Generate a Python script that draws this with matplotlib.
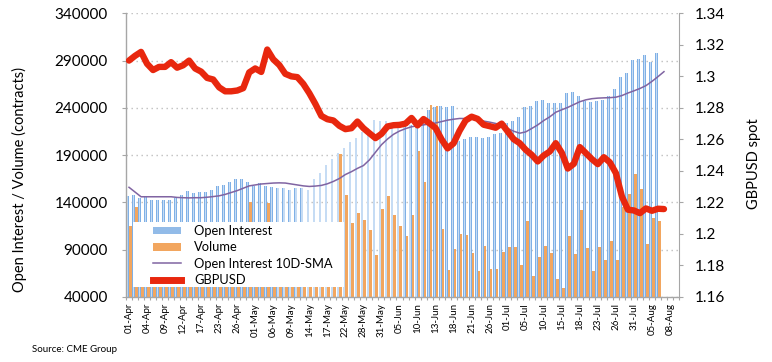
import numpy as np
import pandas as pd
import matplotlib
matplotlib.use("Agg")
import matplotlib.pyplot as plt
from matplotlib.patches import Patch, Rectangle
from matplotlib.lines import Line2D
from matplotlib.ticker import FuncFormatter, FixedLocator

plt.rcParams['font.family'] = ['Lato', 'DejaVu Sans']

# ---- categories (CME business days) ----
holidays = ['2019-04-19', '2019-05-27', '2019-07-04']
dates = [d for d in pd.bdate_range('2019-04-01', '2019-08-09')
         if d.strftime('%Y-%m-%d') not in holidays]
categories = [d.strftime('%d-%b') for d in dates]
label_step = 3

# ---- series ----
open_interest = [
    147000, 147700, 144600, 145300, 142800, 142100, 142800, 142100, 144600, 148100,
    151600, 149900, 150900, 150600, 153400, 157600, 158000, 161500, 164600, 165300,
    161500, 156900, 160400, 156900, 156200, 155100, 155100, 153400, 155100, 155100,
    153400, 164600, 171000, 179800, 186100, 192100, 197400, 204400, 208000, 214000,
    218500, 227300, 226600, 225600, 221000, 222000, 222000, 222000, 222000, 224500,
    237900, 240700, 242100, 241400, 242100, 205000, 206900, 208700, 209000, 208000,
    209700, 212500, 213900, 223800, 225600, 230800, 240700, 242100, 247700, 248400,
    244900, 244900, 244900, 256200, 257300, 252700, 247700, 246700, 247700, 248400,
    252700, 259700, 273100, 276600, 290700, 291400, 296000, 288900, 297700]

volume = [
    115300, 134700, 95000, 105000, 88000, 100000, 92000, 85000, 110000, 98000,
    90000, 104000, 96000, 87000, 108000, 99000, 93000, 112000, 101000, 94000,
    140000, 105000, 98000, 139000, 100000, 92000, 108000, 97000, 89000, 103000,
    110000, 95000, 115000, 112000, 104000, 191000, 147500, 118000, 128500, 121000,
    111000, 84500, 133000, 147000, 127000, 115000, 104800, 127000, 194500, 161300,
    243000, 242000, 111500, 68500, 90500, 107000, 105500, 86500, 67800, 94200,
    69600, 70000, 87500, 93300, 92800, 73700, 120600, 62500, 82200, 93800,
    86100, 58600, 50000, 104500, 85400, 132000, 91400, 67500, 92800, 79400,
    99300, 79000, 135000, 148800, 170000, 153800, 96000, 123400, 120300]

oi_sma10 = [
    156000, 151000, 146000, 146000, 146000, 146000, 146000, 146000, 145300, 145000,
    144800, 145000, 145000, 145500, 146200, 147000, 148500, 150500, 152500, 155000,
    157500, 158500, 159500, 160000, 160500, 160700, 160500, 159500, 158500, 157500,
    156900, 157300, 158000, 159700, 162200, 165300, 169500, 172500, 176000, 179000,
    185000, 193000, 201000, 207000, 212000, 215500, 218000, 220000, 221000, 222000,
    223000, 224000, 225500, 227000, 228000, 228800, 228700, 228000, 227000, 226000,
    224900, 223500, 221300, 218200, 215300, 213200, 214600, 218200, 222000, 226600,
    230500, 235400, 238000, 240500, 243500, 246500, 248500, 249700, 250300, 250600,
    250800, 251300, 253000, 255700, 258000, 260500, 263500, 268000, 273000, 278300]

gbpusd = [
    1.310, 1.313, 1.3155, 1.308, 1.304, 1.306, 1.306, 1.309, 1.3055, 1.307,
    1.310, 1.305, 1.303, 1.299, 1.298, 1.293, 1.2905, 1.2905, 1.291, 1.2925,
    1.3025, 1.305, 1.3028, 1.317, 1.3108, 1.3072, 1.3016, 1.300, 1.2995, 1.2952,
    1.2893, 1.2825, 1.2749, 1.2728, 1.272, 1.2686, 1.2665, 1.2671, 1.2713, 1.2671,
    1.2639, 1.2608, 1.2635, 1.2682, 1.2690, 1.2692, 1.2700, 1.2736, 1.2689, 1.2729,
    1.2702, 1.2672, 1.2600, 1.2543, 1.2575, 1.2655, 1.2720, 1.2744, 1.2730, 1.2693,
    1.2684, 1.2674, 1.2700, 1.2650, 1.2601, 1.2576, 1.2534, 1.2502, 1.2460, 1.2498,
    1.2523, 1.2576, 1.2515, 1.2415, 1.2445, 1.2551, 1.2513, 1.2475, 1.2443, 1.2487,
    1.2454, 1.2386, 1.2238, 1.2154, 1.2149, 1.2132, 1.2162, 1.2147, 1.2160, 1.2158]

left_ticks = [40000, 90000, 140000, 190000, 240000, 290000, 340000]
right_ticks = [1.16, 1.18, 1.20, 1.22, 1.24, 1.26, 1.28, 1.30, 1.32, 1.34]

# ---- styles ----
C_OI = '#7fb0e6'
C_OI_HI = '#c6dcf4'
C_VOL = '#f2a65f'
C_SMA = '#8064a2'
C_FX = '#e8270e'
C_AX = '#a6a6a6'

W, H = 772, 362
fig = plt.figure(figsize=(W / 100, H / 100), dpi=100)
L, R, T, B = 126, 679, 13.3, 297
ax = fig.add_axes([L / W, 1 - B / H, (R - L) / W, (B - T) / H])

xb = np.arange(len(open_interest))
bw = 0.47
ax.bar(xb - bw / 2, open_interest, width=bw, color=C_OI, zorder=2, linewidth=0)
ax.bar(xb - bw / 2, open_interest, width=bw * 0.45, color=C_OI_HI, zorder=2.1, linewidth=0)
ax.bar(xb + bw / 2, volume, width=bw, color=C_VOL, zorder=2.2, linewidth=0)
ax.plot(np.arange(len(oi_sma10)), oi_sma10, color=C_SMA, lw=1.1, zorder=3)

ax.set_xlim(-0.5, len(categories) - 0.5)
ax.set_ylim(left_ticks[0], left_ticks[-1])
ax.set_yticks(left_ticks)
ax.yaxis.set_major_formatter(FuncFormatter(lambda v, p: f'{int(round(v))}'))
ax.grid(axis='y', color='#bfbfbf', linestyle=(0, (1, 2.6)), lw=1.0)
ax.set_axisbelow(True)

pos = list(range(0, len(categories), label_step))
ax.set_xticks(pos)
ax.set_xticklabels([categories[i] for i in pos], rotation=90, fontsize=7)
ax.xaxis.set_minor_locator(FixedLocator(np.arange(-0.5, len(categories), 1)))
ax.tick_params(axis='x', which='major', length=0, pad=4.3)
ax.tick_params(axis='x', which='minor', length=2.5, color=C_AX, width=0.8)
ax.tick_params(axis='y', direction='out', length=3, color=C_AX, pad=10, labelsize=11)

for s in ['top', 'right']:
    ax.spines[s].set_visible(False)
for s in ['left', 'bottom']:
    ax.spines[s].set_color(C_AX)
    ax.spines[s].set_linewidth(1.0)

ax2 = ax.twinx()
ax2.plot(np.arange(len(gbpusd)), gbpusd, color=C_FX, lw=4.6, zorder=4,
         solid_capstyle='round', solid_joinstyle='round')
ax2.set_ylim(right_ticks[0], right_ticks[-1])
ax2.set_yticks(right_ticks)
ax2.yaxis.set_major_formatter(FuncFormatter(lambda v, p: f'{round(v, 2):g}'))
ax2.tick_params(axis='y', direction='out', length=3, color=C_AX, pad=8.5, labelsize=11)
for s in ['top', 'left', 'bottom']:
    ax2.spines[s].set_visible(False)
ax2.spines['right'].set_color(C_AX)

# legend box
lx0, lx1, ly0, ly1 = 133, 344, 287, 222
ax2.add_patch(Rectangle(((lx0 - L) / (R - L), (B - ly0) / (B - T)),
                        (lx1 - lx0) / (R - L), (ly0 - ly1) / (B - T),
                        transform=ax2.transAxes, facecolor='white',
                        edgecolor='none', zorder=5))
handles = [Patch(facecolor='#92bbe8', edgecolor='none'),
           Patch(facecolor=C_VOL, edgecolor='none'),
           Line2D([], [], color=C_SMA, lw=1.1),
           Line2D([], [], color=C_FX, lw=5)]
labels = ['Open Interest', 'Volume', 'Open Interest 10D-SMA', 'GBPUSD']
leg = ax2.legend(handles, labels, loc='upper left', frameon=False,
                 bbox_to_anchor=((153 - L) / (R - L), (B - 225) / (B - T)),
                 borderpad=0, borderaxespad=0, fontsize=9.3, handlelength=2.2,
                 handleheight=0.55, handletextpad=1.0, labelspacing=0.33)
leg.set_zorder(6)

fig.text(19 / W, 1 - 180 / H, 'Open Interest / Volume (contracts)', rotation=90,
         ha='center', va='center', fontsize=10.5)
fig.text(754 / W, 1 - 164 / H, 'GBPUSD spot', rotation=90,
         ha='center', va='center', fontsize=10.5)
fig.text(32 / W, 1 - 350 / H, 'Source: CME Group', ha='left', va='center', fontsize=7)

fig.savefig('out.png', dpi=100)
